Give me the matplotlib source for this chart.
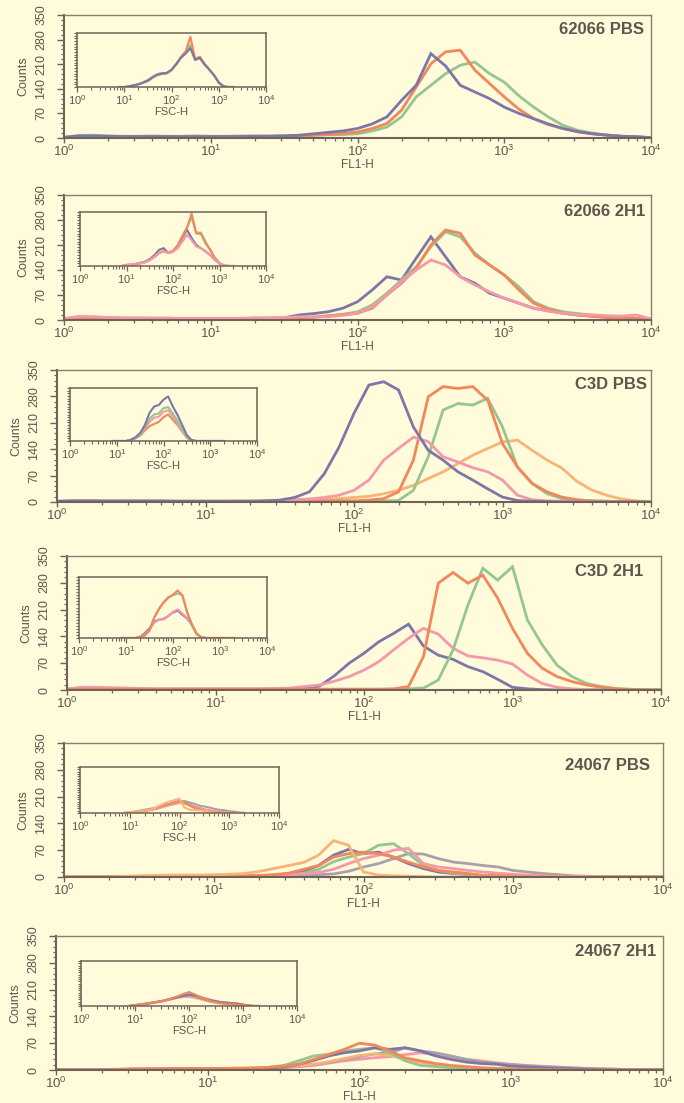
import numpy as np
import matplotlib
matplotlib.use('Agg')
import matplotlib.pyplot as plt
from matplotlib import font_manager
from matplotlib.ticker import FixedLocator, FixedFormatter, MultipleLocator, NullFormatter

# ------------------------------------------------------------------ data
FL1_EXP = [0.0, 0.1, 0.2, 0.3, 0.4, 0.5, 0.6, 0.7, 0.8, 0.9,
           1.0, 1.1, 1.2, 1.3, 1.4, 1.5, 1.6, 1.7, 1.8, 1.9,
           2.0, 2.1, 2.2, 2.3, 2.4, 2.5, 2.6, 2.7, 2.8, 2.9,
           3.0, 3.1, 3.2, 3.3, 3.4, 3.5, 3.6, 3.7, 3.8, 3.9, 4.0]
FSC_EXP = [0.9, 1.0, 1.1, 1.2, 1.3, 1.4, 1.5, 1.6, 1.7, 1.8,
           1.9, 2.0, 2.1, 2.2, 2.3, 2.4, 2.5, 2.6, 2.7, 2.8,
           2.9, 3.0, 3.1, 3.2, 3.3]

TITLES = ['62066 PBS', '62066 2H1', 'C3D PBS', 'C3D 2H1', '24067 PBS', '24067 2H1']
Y_TICKS = [0, 70, 140, 210, 280, 350]
X_DECADES = [0, 1, 2, 3, 4]

# panel 1 : 62066 PBS
P1_GREEN = [2,7,8,6,5,5,6,5,5,6, 5,5,6,6,6,7,7,8,9,10, 12,20,31,60,117,150,183,207,216,183, 159,120,88,60,36,22,14,9,5,3, 1]
P1_ORANGE = [1,4,4,3,3,3,3,3,3,3, 3,3,3,3,4,4,5,8,10,13, 17,27,41,79,145,211,245,250,193,155, 117,82,55,38,27,18,12,8,5,3, 1]
P1_PURPLE = [2,6,6,5,4,4,4,4,4,4, 4,4,4,5,5,6,8,12,16,20, 27,40,60,107,150,240,205,150,131,112, 88,70,55,40,27,18,12,8,5,4, 1]
P1_IN_GREEN = [0,0,1,3,5,9,13,19,24,26, 26,32,43,55,64,78,51,53,41,32, 21,8,2,0,0]
P1_IN_ORANGE = [0,0,1,3,5,8,11,17,22,24, 25,31,42,56,66,93,52,56,43,33, 22,9,1,0,0]
P1_IN_PURPLE = [0,0,1,3,5,8,12,18,23,25, 26,32,42,54,62,72,50,54,42,32, 22,8,1,0,0]

# panel 2 : 62066 2H1
P2_PURPLE = [3,7,8,6,5,5,5,5,4,4, 4,4,4,5,5,6,14,18,23,33, 51,84,121,112,173,233,177,121,103,75, 61,47,33,26,19,14,11,8,7,5, 2]
P2_GREEN = [2,4,5,4,4,4,4,4,4,4, 4,4,4,4,4,4,5,7,11,16, 23,42,75,112,149,205,247,233,187,154, 126,93,51,33,23,18,14,10,7,5, 2]
P2_ORANGE = [1,3,4,3,3,3,3,3,3,3, 3,3,3,3,3,3,5,8,12,15, 19,33,70,103,145,210,252,243,182,154, 126,84,47,30,20,14,10,7,5,4, 1]
P2_PINK = [4,10,9,7,6,6,5,5,5,5, 5,5,5,6,6,7,9,9,9,13, 19,37,70,107,140,168,154,121,98,79, 61,47,33,25,19,15,14,12,11,14, 3]
P2_IN_PURPLE = [0,2,3,4,6,8,13,20,30,33, 24,27,36,52,67,52,39,33,27,20, 11,5,0,0,0]
P2_IN_GREEN = [0,1,2,3,5,7,11,17,24,27, 25,28,38,55,72,90,62,62,45,30, 15,5,1,0,0]
P2_IN_ORANGE = [0,1,2,3,5,7,11,17,24,28, 25,28,38,55,70,97,60,60,42,30, 15,5,1,0,0]
P2_IN_PINK = [0,2,3,4,5,7,11,17,25,27, 24,26,33,45,58,48,36,33,27,20, 11,5,1,0,0]

# panel 3 : C3D PBS
P3_LORANGE = [0,1,1,1,1,1,1,1,1,1, 1,1,2,2,2,3,4,5,7,9, 12,15,22,31,44,62,80,102,124,142, 159,164,137,111,90,55,32,18,8,3, 0]
P3_GREEN = [2,2,2,2,2,2,2,2,2,2, 2,2,2,2,2,2,2,2,2,2, 2,2,3,4,31,120,244,261,257,275, 199,93,49,22,9,5,3,2,1,1, 0]
P3_ORANGE = [1,3,3,2,2,2,2,2,2,2, 2,2,2,2,2,2,2,3,3,3, 3,5,9,27,111,279,306,301,306,270, 155,93,49,27,13,6,3,2,1,1, 0]
P3_PINK = [2,2,2,2,2,2,2,2,2,2, 2,2,2,2,3,4,6,8,12,18, 31,58,111,142,172,160,120,106,91,80, 58,18,6,3,2,1,1,0,0,0, 0]
P3_PURPLE = [2,3,3,3,3,3,3,3,2,2, 2,2,2,2,3,5,12,27,75,146, 235,310,319,297,199,137,111,80,58,35, 13,4,2,1,0,0,0,0,0,0, 0]
P3_IN_ORANGE = [0,0,0,0,2,6,10,20,28,32, 36,45,50,40,30,18,6,0,0,0, 0,0,0,0,0]
P3_IN_PINK = [0,0,0,0,2,5,11,24,36,44, 46,55,58,46,34,20,7,1,0,0, 0,0,0,0,0]
P3_IN_GREEN = [0,0,0,0,2,5,12,26,42,50, 52,62,64,52,38,22,8,1,0,0, 0,0,0,0,0]
P3_IN_PURPLE = [0,0,0,0,2,7,15,30,53,65, 68,78,84,65,49,30,11,2,0,0, 0,0,0,0,0]

# panel 4 : C3D 2H1
P4_PURPLE = [2,3,3,2,2,2,2,2,2,2, 2,2,2,2,2,3,5,10,37,70, 96,126,148,172,115,91,80,61,48,28, 7,3,1,0,0,0,0,0,0,0, 0]
P4_PINK = [3,7,7,6,5,4,3,3,3,3, 3,3,3,3,4,5,9,13,23,35, 52,74,105,135,161,146,109,89,84,78, 68,39,17,7,3,1,0,0,0,0, 0]
P4_GREEN = [1,2,2,2,2,2,2,2,2,2, 2,2,2,2,2,2,2,2,2,2, 2,2,2,3,5,26,105,222,318,287, 322,183,118,65,35,17,9,4,2,1, 0]
P4_ORANGE = [1,2,2,2,2,2,2,2,2,2, 2,2,2,2,2,2,2,2,2,2, 2,2,3,9,87,279,307,279,300,240, 161,96,57,35,22,13,7,3,1,0, 0]
P4_IN_PURPLE = [0,0,0,0,2,8,16,27,30,31, 36,42,45,38,32,22,7,1,0,0, 0,0,0,0,0]
P4_IN_PINK = [0,0,0,0,2,6,14,25,30,32, 36,43,47,40,33,23,8,1,0,0, 0,0,0,0,0]
P4_IN_GREEN = [0,0,0,0,2,4,13,34,48,59, 67,70,73,70,43,23,7,1,0,0, 0,0,0,0,0]
P4_IN_ORANGE = [0,0,0,0,2,4,12,33,47,58, 66,71,78,70,42,22,7,1,0,0, 0,0,0,0,0]

# panel 5 : 24067 PBS
P5_GRAY = [0,0,0,0,0,0,0,0,0,0, 0,0,1,1,2,3,4,6,8,15, 26,35,48,61,60,48,39,35,30,26, 17,13,9,6,3,2,1,0,0,0, 0]
P5_PURPLE = [0,0,0,0,0,0,1,1,1,1, 1,2,2,3,5,8,15,30,57,72, 61,65,52,35,22,13,9,6,4,3, 2,1,1,0,0,0,0,0,0,0, 0]
P5_GREEN = [0,0,0,0,0,0,0,1,1,1, 1,1,2,3,4,6,10,20,40,52, 61,83,87,61,30,17,10,7,4,3, 2,1,1,0,0,0,0,0,0,0, 0]
P5_PINK = [0,0,0,0,0,0,0,0,1,1, 1,1,1,2,3,5,8,12,20,35, 48,57,70,75,35,26,22,17,13,10, 7,5,3,2,1,1,0,0,0,0, 0]
P5_ORANGE = [0,0,0,0,1,2,2,2,2,2, 2,3,3,4,6,10,20,30,52,61, 65,61,52,39,26,17,13,9,4,3, 2,1,1,0,0,0,0,0,0,0, 0]
P5_LORANGE = [0,0,0,0,2,3,4,5,5,5, 6,7,9,14,22,30,38,57,95,83, 13,5,3,2,1,0,0,0,0,0, 0,0,0,0,0,0,0,0,0,0, 0]
P5_IN_GRAY = [0,1,3,5,7,9,11,13,16,19, 22,25,26,23,20,16,14,12,9,7, 6,4,3,1,0]
P5_IN_PURPLE = [0,1,2,3,5,7,9,12,15,18, 21,24,22,18,14,10,7,5,3,2, 1,0,0,0,0]
P5_IN_GREEN = [0,1,2,3,5,7,9,12,16,19, 23,27,24,18,13,9,6,4,3,2, 1,0,0,0,0]
P5_IN_PINK = [0,1,2,3,4,6,8,11,14,17, 19,22,21,18,14,11,8,6,4,3, 2,1,0,0,0]
P5_IN_ORANGE = [0,1,2,3,5,7,10,13,17,20, 23,26,22,16,11,8,5,3,2,1, 0,0,0,0,0]
P5_IN_LORANGE = [1,2,3,4,5,7,11,16,21,25, 28,31,12,7,6,6,5,3,1,0, 0,0,0,0,0]

# panel 6 : 24067 2H1
P6_PINK = [0,0,0,0,1,2,2,2,2,3, 3,3,3,4,5,6,9,12,18,24, 28,32,35,40,45,41,35,28,24,19, 15,12,10,8,6,4,3,2,1,1, 0]
P6_GRAY = [0,0,0,0,0,1,1,2,2,2, 2,2,3,3,4,6,10,15,20,28, 35,42,45,58,50,45,37,28,21,17, 14,11,9,7,5,4,3,2,1,0, 0]
P6_LORANGE = [0,0,0,0,1,1,2,2,2,2, 3,3,4,5,6,8,11,15,22,30, 38,42,38,28,20,14,8,6,4,3, 2,1,1,0,0,0,0,0,0,0, 0]
P6_GREEN = [0,0,0,0,1,2,3,3,3,3, 3,4,4,5,7,12,24,37,41,50, 54,58,45,24,12,9,6,4,3,2, 1,1,0,0,0,0,0,0,0,0, 0]
P6_PURPLE = [0,0,0,0,1,2,2,2,3,3, 3,3,4,4,5,8,15,25,37,45, 50,58,54,58,50,37,28,21,17,15, 10,8,6,4,3,2,1,0,0,0, 0]
P6_ORANGE = [0,0,0,0,2,3,3,3,4,4, 4,4,5,5,7,10,15,28,41,54, 70,65,50,32,24,17,12,9,6,4, 3,2,1,1,0,0,0,0,0,0, 0]
P6_IN_LORANGE = [0,1,3,4,6,8,10,13,15,18, 20,20,18,15,12,9,7,5,4,3, 2,1,0,0,0]
P6_IN_PINK = [0,1,3,4,6,8,10,13,16,19, 21,22,21,18,15,12,10,8,7,6, 5,3,1,0,0]
P6_IN_GRAY = [0,2,4,5,7,9,11,14,17,20, 23,26,25,21,17,14,11,9,8,6, 5,3,1,0,0]
P6_IN_GREEN = [0,2,3,5,7,9,11,14,17,21, 23,24,22,18,14,11,9,7,6,5, 4,2,1,0,0]
P6_IN_PURPLE = [0,2,3,5,7,9,11,14,17,20, 23,25,23,19,15,12,10,8,7,6, 5,3,1,0,0]
P6_IN_ORANGE = [0,2,4,5,7,9,11,14,18,22, 27,31,26,20,15,11,8,6,5,4, 3,2,1,0,0]

PANEL_CURVES = [
    [('green', P1_GREEN), ('orange', P1_ORANGE), ('purple', P1_PURPLE)],
    [('purple', P2_PURPLE), ('green', P2_GREEN), ('orange', P2_ORANGE), ('pink', P2_PINK)],
    [('lorange', P3_LORANGE), ('green', P3_GREEN), ('orange', P3_ORANGE), ('pink', P3_PINK), ('purple', P3_PURPLE)],
    [('purple', P4_PURPLE), ('pink', P4_PINK), ('green', P4_GREEN), ('orange', P4_ORANGE)],
    [('gray', P5_GRAY), ('purple', P5_PURPLE), ('green', P5_GREEN), ('pink', P5_PINK), ('orange', P5_ORANGE), ('lorange', P5_LORANGE)],
    [('pink', P6_PINK), ('gray', P6_GRAY), ('lorange', P6_LORANGE), ('green', P6_GREEN), ('purple', P6_PURPLE), ('orange', P6_ORANGE)],
]
INSET_CURVES = [
    [('green', P1_IN_GREEN), ('orange', P1_IN_ORANGE), ('purple', P1_IN_PURPLE)],
    [('purple', P2_IN_PURPLE), ('green', P2_IN_GREEN), ('orange', P2_IN_ORANGE), ('pink', P2_IN_PINK)],
    [('orange', P3_IN_ORANGE), ('pink', P3_IN_PINK), ('green', P3_IN_GREEN), ('purple', P3_IN_PURPLE)],
    [('purple', P4_IN_PURPLE), ('pink', P4_IN_PINK), ('green', P4_IN_GREEN), ('orange', P4_IN_ORANGE)],
    [('gray', P5_IN_GRAY), ('purple', P5_IN_PURPLE), ('green', P5_IN_GREEN), ('pink', P5_IN_PINK), ('orange', P5_IN_ORANGE), ('lorange', P5_IN_LORANGE)],
    [('lorange', P6_IN_LORANGE), ('pink', P6_IN_PINK), ('gray', P6_IN_GRAY), ('green', P6_IN_GREEN), ('purple', P6_IN_PURPLE), ('orange', P6_IN_ORANGE)],
]

# ------------------------------------------------------------------ style
BG = '#fffbdb'
AXC = '#6f6357'
TXT = '#5f554d'
COLORS = {'purple': '#7d76a8', 'orange': '#f2875a', 'green': '#95c68f',
          'pink': '#f598a9', 'lorange': '#f8b476', 'gray': '#a8a0aa'}

names = {f.name for f in font_manager.fontManager.ttflist}
FAM = 'Liberation Sans' if 'Liberation Sans' in names else 'DejaVu Sans'
plt.rcParams['font.family'] = [FAM, 'DejaVu Sans']
plt.rcParams['mathtext.fontset'] = 'custom'
plt.rcParams['mathtext.rm'] = FAM
plt.rcParams['mathtext.it'] = FAM + ':italic'
plt.rcParams['mathtext.bf'] = FAM + ':bold'

W, H = 684, 1103
fig = plt.figure(figsize=(W / 100, H / 100), dpi=100, facecolor=BG)

MAIN_BOX = [(64, 15, 651, 138), (64, 195, 651, 320), (57, 370, 651, 502),
            (67, 556, 661, 690), (64, 743, 663, 877), (56, 936, 663, 1070)]
INSET_BOX = [(77, 33, 266, 87), (80, 212, 266, 266), (70, 388, 257, 441),
             (79, 577, 267, 638), (80, 767, 279, 813), (81, 961, 297, 1006)]
TITLE_POS = [(644, 29), (645, 212), (647, 385), (643, 572), (650, 765), (656, 951)]


def rect(b):
    x0, y0, x1, y1 = b
    return [x0 / W, 1 - y1 / H, (x1 - x0) / W, (y1 - y0) / H]


dec_pos = [10.0 ** d for d in X_DECADES]
dec_lab = [r'$\mathregular{10^{%d}}$' % d for d in X_DECADES]
minor_pos = [m * 10.0 ** d for d in X_DECADES[:-1] for m in range(2, 10)]

fl1_x = [10.0 ** e for e in FL1_EXP]
fsc_x = [10.0 ** e for e in FSC_EXP]


def style_spines(ax, lw_main=1.5, lw_side=1.0):
    for s in ['left', 'bottom']:
        ax.spines[s].set_color(AXC)
        ax.spines[s].set_linewidth(lw_main)
        ax.spines[s].set_zorder(5)
    for s in ['top', 'right']:
        ax.spines[s].set_color('#8a7e72')
        ax.spines[s].set_linewidth(lw_side)
        ax.spines[s].set_zorder(5)


for i in range(6):
    ax = fig.add_axes(rect(MAIN_BOX[i]))
    ax.set_facecolor(BG)
    ax.set_xscale('log')
    ax.set_xlim(1, 1e4)
    ax.set_ylim(0, 350)
    for cname, vals in PANEL_CURVES[i]:
        ax.plot(fl1_x, vals, color=COLORS[cname], lw=2.0, solid_joinstyle='miter', zorder=3)
    style_spines(ax)
    ax.xaxis.set_major_locator(FixedLocator(dec_pos))
    ax.xaxis.set_major_formatter(FixedFormatter(dec_lab))
    ax.xaxis.set_minor_locator(FixedLocator(minor_pos))
    ax.xaxis.set_minor_formatter(NullFormatter())
    ax.yaxis.set_major_locator(FixedLocator(Y_TICKS))
    ax.yaxis.set_major_formatter(FixedFormatter([str(v) for v in Y_TICKS]))
    ax.yaxis.set_minor_locator(MultipleLocator(14))
    ax.tick_params(axis='x', which='major', direction='out', length=3.8, width=1.0,
                   color=AXC, labelcolor=TXT, labelsize=9.5, pad=0.5)
    ax.tick_params(axis='x', which='minor', direction='out', length=2.2, width=0.9, color=AXC)
    ax.tick_params(axis='y', which='major', direction='out', length=5, width=1.0,
                   color=AXC, labelcolor=TXT, labelsize=9, pad=7)
    ax.tick_params(axis='y', which='minor', direction='out', length=2.5, width=0.8, color=AXC)
    for lab in ax.get_yticklabels():
        lab.set_rotation(90)
        lab.set_va('center')
    ax.set_xlabel('FL1-H', fontsize=8.5, color=TXT, labelpad=0)
    ax.set_ylabel('Counts', fontsize=9, color=TXT, labelpad=4)
    tx, ty = TITLE_POS[i]
    fig.text(tx / W, 1 - ty / H, TITLES[i], ha='right', va='center',
             fontsize=12, fontweight='bold', color=TXT)

    axi = fig.add_axes(rect(INSET_BOX[i]))
    axi.set_facecolor('none')
    axi.set_xscale('log')
    axi.set_xlim(1, 1e4)
    axi.set_ylim(0, 100)
    for cname, vals in INSET_CURVES[i]:
        axi.plot(fsc_x, vals, color=COLORS[cname], lw=1.5, zorder=3)
    for s in ['left', 'bottom', 'top', 'right']:
        axi.spines[s].set_color(AXC)
        axi.spines[s].set_linewidth(1.1)
        axi.spines[s].set_zorder(5)
    axi.xaxis.set_major_locator(FixedLocator(dec_pos))
    axi.xaxis.set_major_formatter(FixedFormatter(dec_lab))
    axi.xaxis.set_minor_locator(FixedLocator(minor_pos))
    axi.xaxis.set_minor_formatter(NullFormatter())
    axi.yaxis.set_major_locator(MultipleLocator(20))
    axi.yaxis.set_minor_locator(MultipleLocator(5))
    axi.yaxis.set_major_formatter(NullFormatter())
    axi.tick_params(axis='x', which='major', direction='out', length=3.5, width=0.9,
                    color=AXC, labelcolor=TXT, labelsize=8, pad=1)
    axi.tick_params(axis='x', which='minor', direction='out', length=2, width=0.8, color=AXC)
    axi.tick_params(axis='y', which='both', direction='out', length=2.5, width=0.8, color=AXC)
    axi.set_xlabel('FSC-H', fontsize=8, color=TXT, labelpad=0)

fig.savefig('out.png', dpi=100, facecolor=BG)
